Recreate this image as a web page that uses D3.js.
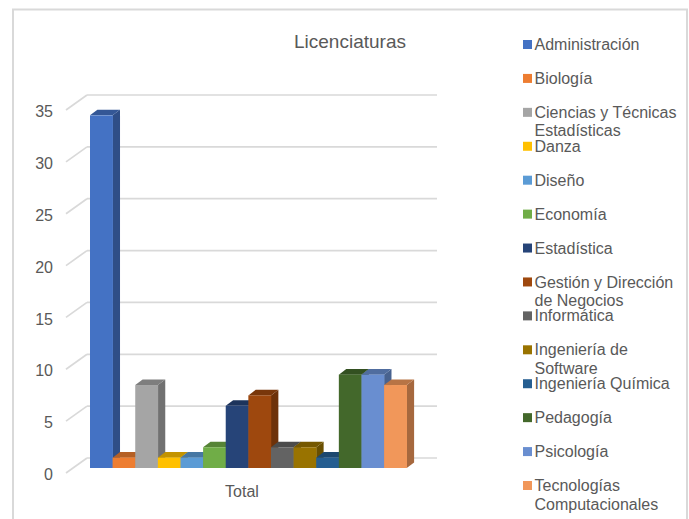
<!DOCTYPE html>
<meta charset="utf-8">
<style>
	body { margin: 0; background: #fff; }
	text { font-family: "Liberation Sans", Arial, sans-serif; fill: #595959; }
	.grid line { stroke: #d9d9d9; stroke-width: 1.7px; }
</style>
<svg width="689" height="519"></svg>
<script src="https://d3js.org/d3.v7.min.js"></script>
<script>

var categories = ["Administración", "Biología", "Ciencias y Técnicas Estadísticas", "Danza", "Diseño", "Economía", "Estadística", "Gestión y Dirección de Negocios", "Informática", "Ingeniería de Software", "Ingeniería Química", "Pedagogía", "Psicología", "Tecnologías Computacionales"];
var values = [34, 1, 8, 1, 1, 2, 6, 7, 2, 2, 1, 9, 9, 8];
var colors = ["#4472c4", "#ed7d31", "#a5a5a5", "#ffc000", "#5b9bd5", "#70ad47", "#264478", "#9e480e", "#636363", "#997300", "#255e91", "#43682b", "#698ed0", "#f1975a"];
var legendLines = [["Administración"], ["Biología"], ["Ciencias y Técnicas", "Estadísticas"], ["Danza"], ["Diseño"], ["Economía"], ["Estadística"], ["Gestión y Dirección", "de Negocios"], ["Informática"], ["Ingeniería de", "Software"], ["Ingeniería Química"], ["Pedagogía"], ["Psicología"], ["Tecnologías", "Computacionales"]];
var ticks = [0, 5, 10, 15, 20, 25, 30, 35];

var svg = d3.select("svg");

// front plane of the 3d box, the back wall is offset by depth
var depth = {x: 7.4, y: -5.6};

var x = d3.scaleBand().domain(categories).range([90, 406.7]);
var y = d3.scaleLinear().domain([0, 35]).range([468, 105]);

var g = svg.append("g");

g.append("rect")
	.attr("x", 13).attr("y", 9.5)
	.attr("width", 674).attr("height", 525)
	.attr("fill", "#fff")
	.attr("stroke", "#d9d9d9")
	.attr("stroke-width", 2);

var grid = g.append("g").attr("class", "grid");

grid.selectAll(".back").data(ticks).enter().append("line")
	.attr("x1", 87).attr("x2", 437)
	.attr("y1", function(d) { return y(d) - 10; })
	.attr("y2", function(d) { return y(d) - 10; });

grid.selectAll(".side").data(ticks).enter().append("line")
	.attr("x1", 66).attr("x2", 87)
	.attr("y1", function(d) { return y(d) + 5; })
	.attr("y2", function(d) { return y(d) - 10; });

g.selectAll(".tick-label").data(ticks).enter().append("text")
	.attr("x", 53)
	.attr("y", function(d) { return y(d) + 6.5; })
	.attr("dy", "0.35em")
	.attr("text-anchor", "end")
	.style("font-size", "16px")
	.text(function(d) { return d; });

var bars = g.selectAll(".bar").data(categories).enter().append("g").attr("class", "bar");

function shade(c, k) { return d3.color(c).darker(k); }

// right face first, then top, then front
bars.append("path")
	.attr("fill", function(d, i) { return shade(colors[i], 1.05); })
	.attr("d", function(d, i) {
		var r = x(d) + x.bandwidth();
		return d3.line()([[r, y(values[i])], [r + depth.x, y(values[i]) + depth.y], [r + depth.x, y(0) + depth.y], [r, y(0)]]) + "Z";
	});

bars.append("path")
	.attr("fill", function(d, i) { return shade(colors[i], 0.75); })
	.attr("d", function(d, i) {
		var l = x(d), r = l + x.bandwidth(), t = y(values[i]);
		return d3.line()([[l, t], [l + depth.x, t + depth.y], [r + depth.x, t + depth.y], [r, t]]) + "Z";
	});

bars.append("rect")
	.attr("x", function(d) { return x(d); })
	.attr("y", function(d, i) { return y(values[i]); })
	.attr("width", x.bandwidth() + 0.3)
	.attr("height", function(d, i) { return y(0) - y(values[i]); })
	.attr("fill", function(d, i) { return colors[i]; });

g.append("text")
	.attr("x", 242).attr("y", 497)
	.attr("text-anchor", "middle")
	.style("font-size", "16px")
	.text("Total");

g.append("text")
	.attr("x", 350).attr("y", 48)
	.attr("text-anchor", "middle")
	.style("font-size", "19px")
	.text("Licenciaturas");

// legend, wrapped entries keep the same row step as the single lines
var legendY = d3.scalePoint().domain(categories).range([44.5, 485.5]);

var legend = g.selectAll(".legend").data(categories).enter().append("g")
	.attr("class", "legend")
	.attr("transform", function(d) { return "translate(523," + legendY(d) + ")"; });

legend.append("rect")
	.attr("y", -4.5)
	.attr("width", 9).attr("height", 9)
	.attr("fill", function(d, i) { return colors[i]; });

legend.append("text")
	.style("font-size", "16px")
	.selectAll("tspan")
	.data(function(d, i) { return legendLines[i]; })
	.enter().append("tspan")
	.attr("x", 11.5)
	.attr("y", function(d, j) { return j * 18.5; })
	.attr("dy", "0.35em")
	.text(function(d) { return d; });

</script>
